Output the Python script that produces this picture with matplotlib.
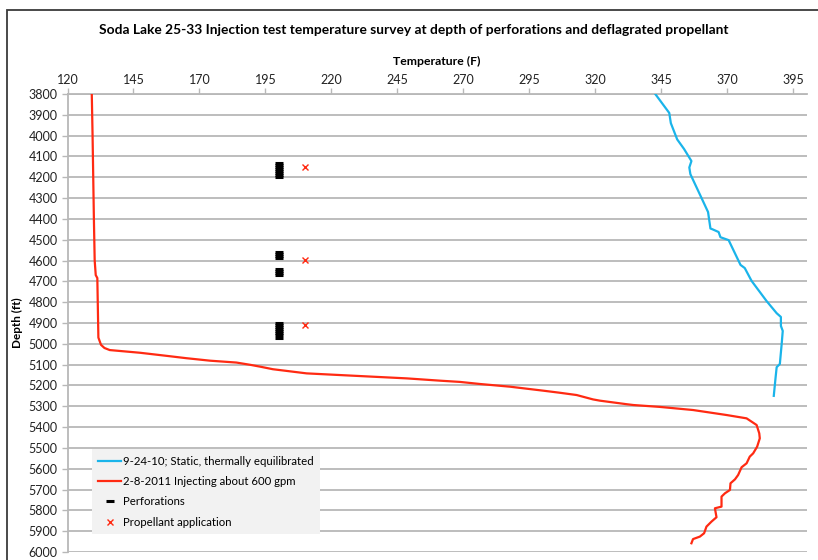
import numpy as np
import matplotlib.pyplot as plt
from matplotlib.lines import Line2D
from matplotlib.patches import Rectangle

plt.rcParams['font.family'] = ['Lato', 'DejaVu Sans']

# 9-24-10 static survey
static_temp = [342.7, 348.0, 348.6, 351.0, 353.6, 356.4, 355.6, 356.0, 359.8, 362.7,
               363.6, 364.4, 366.7, 367.4, 370.5, 375.0, 376.6, 379.2, 384.9, 388.7,
               390.3, 390.3, 391.0, 390.6, 389.9, 388.7, 388.3, 387.6]
static_depth = [3800, 3891, 3940, 4018, 4064, 4122, 4153, 4185, 4288, 4367,
                4446, 4450, 4463, 4488, 4502, 4621, 4636, 4698, 4795, 4853,
                4871, 4914, 4938, 5000, 5097, 5112, 5160, 5250]

# 2-8-2011 injecting survey
inj_temp = [129.2, 129.5, 130.0, 130.3, 130.7, 131.3, 131.7, 132.7, 134.0, 136.0,
            147.5, 157.7, 165.0, 174.0, 184.0, 189.3, 193.1, 197.8, 210.6, 223.2,
            235.8, 248.5, 261.1, 268.7, 276.3, 287.7, 300.2, 306.5, 312.9, 319.1,
            321.7, 331.8, 334.4, 344.4, 357.0, 369.7, 377.3, 381.1, 382.1, 382.3,
            381.3, 379.8, 378.5, 377.3, 375.4, 374.1, 372.9, 371.2, 371.0, 369.1,
            367.8, 367.8, 365.3, 365.9, 364.0, 362.1, 361.2, 359.6, 357.0, 356.4]
inj_depth = [3800, 4000, 4400, 4600, 4670, 4684, 4970, 5005, 5020, 5030,
             5043, 5058, 5069, 5081, 5090, 5101, 5110, 5122, 5142, 5150,
             5158, 5166, 5177, 5183, 5193, 5206, 5225, 5235, 5246, 5267,
             5273, 5290, 5294, 5303, 5318, 5342, 5358, 5390, 5430, 5454,
             5494, 5526, 5542, 5574, 5593, 5630, 5651, 5670, 5702, 5718,
             5734, 5782, 5790, 5833, 5854, 5878, 5910, 5926, 5938, 5958]

perf_depth = [4130, 4140, 4150, 4160, 4170, 4180, 4190, 4200,
              4560, 4570, 4580, 4590,
              4640, 4650, 4660, 4670,
              4900, 4910, 4920, 4930, 4940, 4950, 4960, 4970]
perf_temp = [200] * len(perf_depth)

prop_depth = [4150, 4595, 4910]
prop_temp = [210, 210, 210]

blue = '#1ab4ea'
red = '#ff2a12'
grid_c = '#b8b8b8'

fig = plt.figure(figsize=(8.18, 5.60), dpi=100)
ax = fig.add_axes([67.5 / 818, 8 / 560, (806.5 - 67.5) / 818, (552 - 94) / 560])

# chart frame
fig.patches.append(Rectangle((6.7 / 818, -0.1), 1.2, (560 - 10.3) / 560 + 0.1,
                             transform=fig.transFigure, fill=False,
                             edgecolor='#3a3a3a', linewidth=1.3))

ax.plot(static_temp, static_depth, color=blue, lw=1.6, zorder=3)
ax.plot(inj_temp, inj_depth, color=red, lw=1.6, zorder=3)
ax.plot(perf_temp, perf_depth, ls='none', marker='_', color='black',
        markersize=5.5, mew=2.2, zorder=4)
ax.plot(prop_temp, prop_depth, ls='none', marker='x', color=red,
        markersize=4, mew=1, zorder=4)

ax.set_xlim(120, 400)
ax.set_ylim(6000, 3800)
ax.set_xticks(np.arange(120, 396, 25))
ax.set_yticks(np.arange(3800, 6001, 100))
ax.xaxis.tick_top()
ax.xaxis.set_label_position('top')
ax.tick_params(axis='both', labelsize=9, colors=grid_c, labelcolor='#222222',
               length=4, width=1)
ax.tick_params(axis='x', pad=2)
ax.tick_params(axis='y', pad=3)

ax.grid(axis='y', color=grid_c, lw=1.3)
ax.set_axisbelow(True)
for s in ['right', 'bottom']:
    ax.spines[s].set_visible(False)
for s in ['left', 'top']:
    ax.spines[s].set_color(grid_c)
    ax.spines[s].set_linewidth(1.3)

ax.set_xlabel('Temperature (F)', fontsize=8.8, fontweight='bold', labelpad=6)
ax.set_ylabel('Depth (ft)', fontsize=8.5, fontweight='bold', labelpad=4)

fig.text(414 / 818, 1 - 30 / 560, 'Soda Lake 25-33 Injection test temperature survey '
         'at depth of perforations and deflagrated propellant',
         ha='center', va='center', fontsize=9.9, fontweight='bold')

handles = [Line2D([], [], color=blue, lw=1.6),
           Line2D([], [], color=red, lw=1.6),
           Line2D([], [], ls='none', marker='_', color='black', markersize=5.5, mew=2.2),
           Line2D([], [], ls='none', marker='x', color=red, markersize=4, mew=1)]
labels = ['9-24-10; Static, thermally equilibrated',
          '2-8-2011 Injecting about 600 gpm',
          'Perforations', 'Propellant application']
leg = ax.legend(handles, labels, loc='lower left',
                bbox_to_anchor=((92 - 67.5) / 739, (552 - 534) / 458),
                fontsize=8.2, frameon=True, fancybox=False, facecolor='#f2f2f2',
                edgecolor='none', framealpha=1, handlelength=2.0,
                handletextpad=0.2, labelspacing=0.82, borderpad=0.55,
                borderaxespad=0)

fig.savefig('out.png', dpi=100)
